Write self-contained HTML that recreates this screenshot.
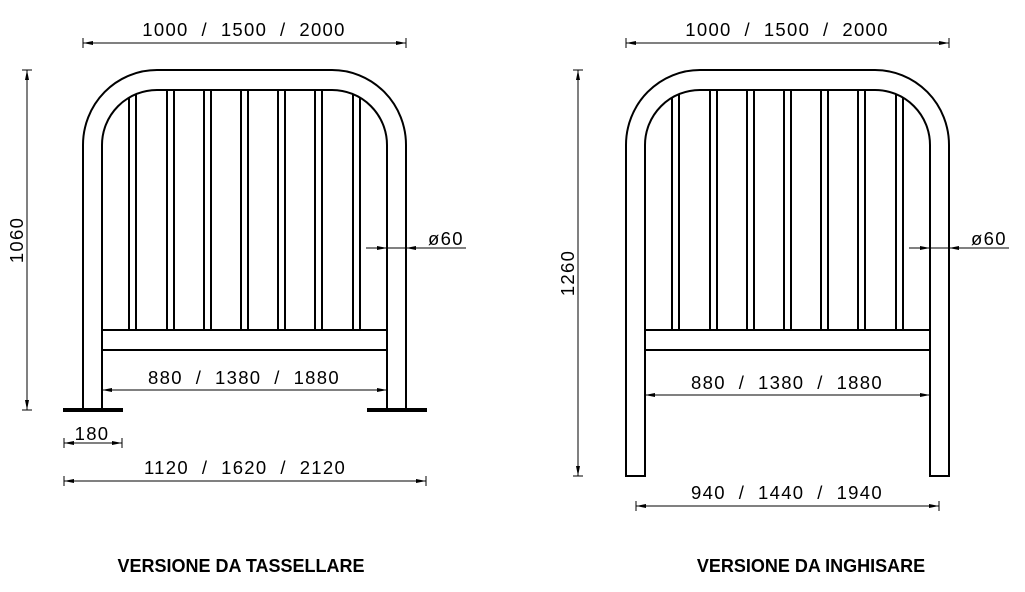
<!DOCTYPE html>
<html><head><meta charset="utf-8"><style>html,body{margin:0;background:#fff}svg{display:block}text{white-space:pre}.d{letter-spacing:1.3px}</style></head><body>
<svg width="1025" height="592" viewBox="0 0 1025 592" xmlns="http://www.w3.org/2000/svg" font-family="Liberation Sans, sans-serif">
<defs>
<clipPath id="ci"><path d="M102,420 V145 A55,55 0 0 1 157,90 H332 A55,55 0 0 1 387,145 V420 Z"/></clipPath>
<g id="frame">
<path d="M83,145 A74,75 0 0 1 157,70 H332 A74,75 0 0 1 406,145" fill="none" stroke="#000" stroke-width="2"/>
<path d="M102,145 A55,55 0 0 1 157,90 H332 A55,55 0 0 1 387,145" fill="none" stroke="#000" stroke-width="2"/>
<g clip-path="url(#ci)" stroke="#000" stroke-width="2">
<line x1="129" y1="80" x2="129" y2="330"/><line x1="136" y1="80" x2="136" y2="330"/>
<line x1="167" y1="80" x2="167" y2="330"/><line x1="174" y1="80" x2="174" y2="330"/>
<line x1="204" y1="80" x2="204" y2="330"/><line x1="211" y1="80" x2="211" y2="330"/>
<line x1="241" y1="80" x2="241" y2="330"/><line x1="248" y1="80" x2="248" y2="330"/>
<line x1="278" y1="80" x2="278" y2="330"/><line x1="285" y1="80" x2="285" y2="330"/>
<line x1="315" y1="80" x2="315" y2="330"/><line x1="322" y1="80" x2="322" y2="330"/>
<line x1="353" y1="80" x2="353" y2="330"/><line x1="360" y1="80" x2="360" y2="330"/>
</g>
<rect x="102" y="330" width="285" height="20" fill="none" stroke="#000" stroke-width="2"/>
<g stroke="#000" stroke-width="1"><line x1="83" y1="43" x2="406" y2="43"/><line x1="83" y1="38" x2="83" y2="48"/><line x1="406" y1="38" x2="406" y2="48"/></g>
<path d="M83,43 l10,-2 v4z M406,43 l-10,-2 v4z" fill="#000"/>
<text class="d" x="244" y="36" font-size="18.5" text-anchor="middle">1000  /  1500  /  2000</text>
<g stroke="#000" stroke-width="1"><line x1="366" y1="248" x2="466" y2="248"/></g>
<path d="M387,248 l-10,-2 v4z M406,248 l10,-2 v4z" fill="#000"/>
<text class="d" x="428" y="245" font-size="18.5">ø60</text>
</g>
</defs>

<use href="#frame"/>
<g stroke="#000" stroke-width="2" fill="none">
<line x1="83" y1="145" x2="83" y2="410"/><line x1="102" y1="145" x2="102" y2="410"/>
<line x1="387" y1="145" x2="387" y2="410"/><line x1="406" y1="145" x2="406" y2="410"/>
</g>
<g stroke="#000" stroke-width="4"><line x1="63" y1="410" x2="123" y2="410"/><line x1="367" y1="410" x2="427" y2="410"/></g>
<g stroke="#000" stroke-width="1">
<line x1="27" y1="70" x2="27" y2="410"/><line x1="22" y1="70" x2="32" y2="70"/><line x1="22" y1="410" x2="32" y2="410"/>
<line x1="102" y1="390" x2="387" y2="390"/>
<line x1="64" y1="443" x2="122" y2="443"/><line x1="64" y1="438" x2="64" y2="448"/><line x1="122" y1="438" x2="122" y2="448"/>
<line x1="64" y1="481" x2="426" y2="481"/><line x1="64" y1="476" x2="64" y2="486"/><line x1="426" y1="476" x2="426" y2="486"/>
</g>
<path d="M27,70 l-2,10 h4z M27,410 l-2,-10 h4z M102,390 l10,-2 v4z M387,390 l-10,-2 v4z M64,443 l10,-2 v4z M122,443 l-10,-2 v4z M64,481 l10,-2 v4z M426,481 l-10,-2 v4z" fill="#000"/>
<text class="d" transform="translate(23,240) rotate(-90)" font-size="18.5" text-anchor="middle">1060</text>
<text class="d" x="244" y="384" font-size="18.5" text-anchor="middle">880  /  1380  /  1880</text>
<text class="d" x="92" y="440" font-size="18.5" text-anchor="middle">180</text>
<text class="d" x="245" y="474" font-size="18.5" text-anchor="middle">1120  /  1620  /  2120</text>
<text x="241" y="572" font-size="18" font-weight="bold" text-anchor="middle">VERSIONE DA TASSELLARE</text>

<g transform="translate(543,0)">
<use href="#frame"/>
<g stroke="#000" stroke-width="2" fill="none">
<path d="M83,145 V476 H102 V145"/>
<path d="M387,145 V476 H406 V145"/>
</g>
<g stroke="#000" stroke-width="1">
<line x1="35" y1="70" x2="35" y2="476"/><line x1="30" y1="70" x2="40" y2="70"/><line x1="30" y1="476" x2="40" y2="476"/>
<line x1="102" y1="395" x2="387" y2="395"/>
<line x1="93" y1="506" x2="396" y2="506"/><line x1="93" y1="501" x2="93" y2="511"/><line x1="396" y1="501" x2="396" y2="511"/>
</g>
<path d="M35,70 l-2,10 h4z M35,476 l-2,-10 h4z M102,395 l10,-2 v4z M387,395 l-10,-2 v4z M93,506 l10,-2 v4z M396,506 l-10,-2 v4z" fill="#000"/>
<text class="d" transform="translate(31,273) rotate(-90)" font-size="18.5" text-anchor="middle">1260</text>
<text class="d" x="244" y="389" font-size="18.5" text-anchor="middle">880  /  1380  /  1880</text>
<text class="d" x="244" y="499" font-size="18.5" text-anchor="middle">940  /  1440  /  1940</text>
<text x="268" y="572" font-size="18" font-weight="bold" text-anchor="middle">VERSIONE DA INGHISARE</text>
</g>
</svg>
</body></html>
